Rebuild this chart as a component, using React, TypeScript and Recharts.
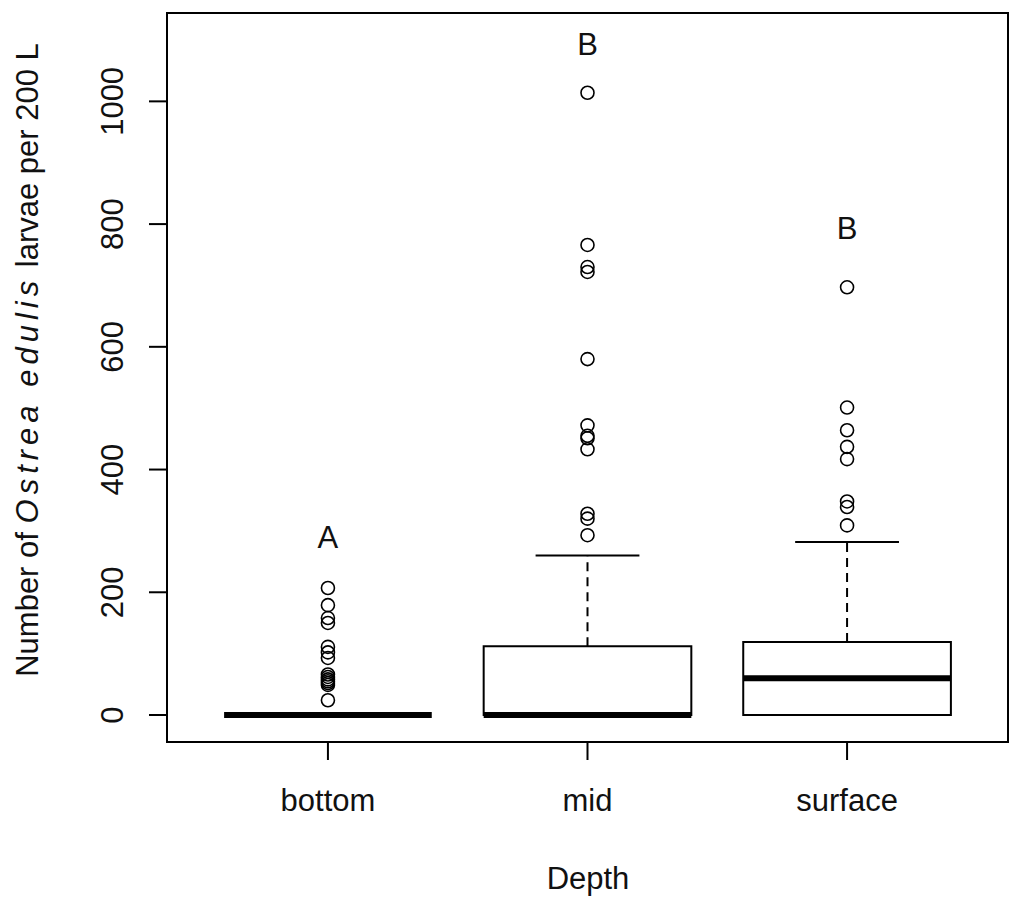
import React from "react";
import { ComposedChart, XAxis, YAxis, Scatter, ReferenceArea, ReferenceLine, Label } from "recharts";

// Ostrea edulis larvae per 200 L, by sampling depth
const depths = ["bottom", "mid", "surface"];
const q1 = [0, 0, 0];
const medians = [0, 0, 60];
const q3 = [0, 112, 119];
const lowerWhiskers = [0, 0, 0];
const upperWhiskers = [0, 260, 282];

const bottomOutliers = [207, 179, 158, 150, 111, 102, 93, 66, 62, 58, 55, 52, 49, 24];
const midOutliers = [1014, 766, 730, 722, 580, 472, 455, 451, 433, 328, 320, 293];
const surfaceOutliers = [697, 501, 464, 437, 417, 348, 339, 309];

const groupLetters = ["A", "B", "B"];
const letterHeights = [291, 1094, 794];

const yTicks = [0, 200, 400, 600, 800, 1000];
const xTicks = [1, 2, 3];

const FONT = "'Liberation Sans', Arial, sans-serif";
const INK = "#111";

const outlierPoints = [bottomOutliers, midOutliers, surfaceOutliers].flatMap((vals, i) =>
  vals.map((v) => ({ x: i + 1, y: v }))
);
const letterPoints = groupLetters.map((l, i) => ({ x: i + 1, y: letterHeights[i], letter: l }));

const OpenCircle = (props: any) => (
  <circle cx={props.cx} cy={props.cy} r={6.5} fill="none" stroke="#000" strokeWidth={1.6} />
);

const LetterMark = (props: any) => (
  <text x={props.cx} y={props.cy} dy="0.36em" textAnchor="middle" fontSize={31} fontFamily={FONT} fill={INK}>
    {props.payload.letter}
  </text>
);

const XTick = ({ x, y, payload }: any) => (
  <text x={x} y={y} dy={49} textAnchor="middle" fontSize={31} fontFamily={FONT} fill={INK}>
    {depths[payload.value - 1]}
  </text>
);

const YTick = ({ x, y, payload }: any) => (
  <text x={x} y={y} transform={`rotate(-90, ${x}, ${y})`} textAnchor="middle" fontSize={31} fontFamily={FONT} fill={INK}>
    {payload.value}
  </text>
);

const YTitle = () => (
  <text x={38} y={360} transform="rotate(-90, 38, 360)" textAnchor="middle" fontSize={31} fontFamily={FONT} fill={INK}>
    <tspan>Number of </tspan>
    <tspan fontStyle="italic" letterSpacing={5}>Ostrea edulis</tspan>
    <tspan> larvae per 200 L</tspan>
  </text>
);

const XTitle = () => (
  <text x={588} y={889} textAnchor="middle" fontSize={31} fontFamily={FONT} fill={INK}>
    Depth
  </text>
);

export default function App() {
  return (
    <div style={{ position: "absolute", left: 0, top: 0, width: 1009, height: 900, background: "#fff", overflow: "hidden" }}>
      <ComposedChart width={1009} height={900} margin={{ top: 13, right: 1, bottom: 0, left: 0 }}>
        <XAxis
          type="number"
          dataKey="x"
          domain={[0.38, 3.62]}
          ticks={xTicks}
          allowDataOverflow
          height={158}
          axisLine={false}
          stroke="#000"
          tickLine={{ stroke: "#000", strokeWidth: 2 }}
          tickSize={18}
          tickMargin={2}
          tick={XTick}
        >
          <Label content={XTitle} />
        </XAxis>
        <YAxis
          type="number"
          dataKey="y"
          domain={[-44, 1144]}
          ticks={yTicks}
          allowDataOverflow
          width={167}
          axisLine={false}
          stroke="#000"
          tickLine={{ stroke: "#000", strokeWidth: 2 }}
          tickSize={18}
          tickMargin={26}
          tick={YTick}
        >
          <Label content={YTitle} />
        </YAxis>

        {/* plot frame */}
        <ReferenceArea x1={0.38} x2={3.62} y1={-44} y2={1144} fill="none" stroke="#000" strokeWidth={2} />

        {depths.map((d, i) => {
          const c = i + 1;
          return (
            <React.Fragment key={d}>
              <ReferenceLine
                segment={[{ x: c, y: q3[i] }, { x: c, y: upperWhiskers[i] }]}
                stroke="#000"
                strokeWidth={2}
                strokeDasharray="9 6"
              />
              <ReferenceLine
                segment={[{ x: c, y: q1[i] }, { x: c, y: lowerWhiskers[i] }]}
                stroke="#000"
                strokeWidth={2}
                strokeDasharray="9 6"
              />
              <ReferenceLine
                segment={[{ x: c - 0.2, y: upperWhiskers[i] }, { x: c + 0.2, y: upperWhiskers[i] }]}
                stroke="#000"
                strokeWidth={2}
              />
              <ReferenceLine
                segment={[{ x: c - 0.2, y: lowerWhiskers[i] }, { x: c + 0.2, y: lowerWhiskers[i] }]}
                stroke="#000"
                strokeWidth={2}
              />
              <ReferenceArea x1={c - 0.4} x2={c + 0.4} y1={q1[i]} y2={q3[i]} fill="#fff" stroke="#000" strokeWidth={2} />
              <ReferenceLine
                segment={[{ x: c - 0.4, y: medians[i] }, { x: c + 0.4, y: medians[i] }]}
                stroke="#000"
                strokeWidth={6}
              />
            </React.Fragment>
          );
        })}

        <Scatter data={outlierPoints} dataKey="y" shape={OpenCircle} isAnimationActive={false} />
        <Scatter data={letterPoints} dataKey="y" shape={LetterMark} isAnimationActive={false} />
      </ComposedChart>
    </div>
  );
}
